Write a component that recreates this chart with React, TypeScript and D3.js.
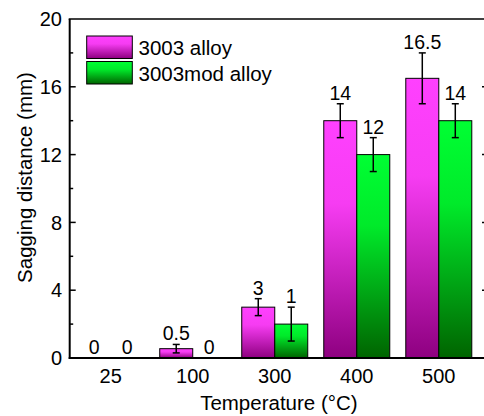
import React from "react";
import * as d3 from "d3";

const categories = ["25", "100", "300", "400", "500"];
const alloy3003 = [0, 0.55, 3, 14, 16.5];
const err3003 = [0, 0.25, 0.5, 1, 1.5];
const label3003 = ["0", "0.5", "3", "14", "16.5"];
const alloyMod = [0, 0, 2, 12, 14];
const errMod = [0, 0, 1, 1, 1];
const labelMod = ["0", "0", "1", "12", "14"];
const yTicks = [0, 4, 8, 12, 16, 20];
const yMinor = [2, 6, 10, 14, 18];
const seriesNames = ["3003 alloy", "3003mod alloy"];

const W = 484;
const H = 416;
const FONT = "'Liberation Sans', Arial, Helvetica, sans-serif";

export default function App() {
  const left = 69.7;
  const right = 488;
  const top = 19;
  const bottom = 358;
  const x = d3.scaleLinear().domain([0.5, 5.6]).range([left, right]);
  const y = d3.scaleLinear().domain([0, 20]).range([bottom, top]);
  const barW = 33;

  const series = [
    { vals: alloy3003, errs: err3003, labels: label3003, fill: "url(#gMag)", off: -1 },
    { vals: alloyMod, errs: errMod, labels: labelMod, fill: "url(#gGrn)", off: 0 },
  ];

  return (
    <svg width={W} height={H} style={{ position: "absolute", left: 0, top: 0, background: "#fff" }} fontFamily={FONT}>
      <defs>
        <linearGradient id="gMag" x1="0" y1="0" x2="0" y2="1">
          <stop offset="0%" stopColor="#ff40ff" />
          <stop offset="35%" stopColor="#f63cf2" />
          <stop offset="100%" stopColor="#8e0080" />
        </linearGradient>
        <linearGradient id="gGrn" x1="0" y1="0" x2="0" y2="1">
          <stop offset="0%" stopColor="#00ff33" />
          <stop offset="35%" stopColor="#00ea2a" />
          <stop offset="100%" stopColor="#006400" />
        </linearGradient>
      </defs>

      {series.map((s, si) =>
        categories.map((c, i) => {
          const cx = x(i + 1);
          const bx = cx + s.off * barW;
          const v = s.vals[i];
          const e = s.errs[i];
          const mid = bx + barW / 2;
          const errTop = y(v + e);
          return (
            <g key={`${si}-${i}`}>
              {v > 0 && (
                <rect x={bx} y={y(v)} width={barW} height={y(0) - y(v)} fill={s.fill} stroke="#000" strokeWidth={1} />
              )}
              {e > 0 && (
                <g stroke="#000" strokeWidth={1.5}>
                  <line x1={mid} x2={mid} y1={y(v + e)} y2={y(v - e)} />
                  <line x1={mid - 3.5} x2={mid + 3.5} y1={y(v + e)} y2={y(v + e)} />
                  <line x1={mid - 3.5} x2={mid + 3.5} y1={y(v - e)} y2={y(v - e)} />
                </g>
              )}
              <text x={mid} y={errTop - 4} textAnchor="middle" fontSize={19.5} fill="#000">
                {s.labels[i]}
              </text>
            </g>
          );
        })
      )}

      {/* axes frame */}
      <line x1={left - 1} x2={W + 10} y1={top} y2={top} stroke="#000" strokeWidth={1.5} />
      <line x1={left} x2={left} y1={top} y2={bottom + 1} stroke="#000" strokeWidth={2} />
      <line x1={right} x2={right} y1={top} y2={bottom} stroke="#000" strokeWidth={1.5} />
      <line x1={left - 1} x2={W + 10} y1={bottom} y2={bottom} stroke="#000" strokeWidth={2} />

      {yTicks.map((t) => (
        <g key={"t" + t}>
          {t > 0 && t < 20 && (
            <>
              <line x1={left} x2={left + 6} y1={y(t)} y2={y(t)} stroke="#000" strokeWidth={1.5} />
              <line x1={right} x2={right - 6} y1={y(t)} y2={y(t)} stroke="#000" strokeWidth={1.5} />
            </>
          )}
          <text x={62} y={y(t)} dy="0.36em" textAnchor="end" fontSize={20} fill="#000">
            {t}
          </text>
        </g>
      ))}
      {yMinor.map((t) => (
        <g key={"m" + t}>
          <line x1={left} x2={left + 3.5} y1={y(t)} y2={y(t)} stroke="#000" strokeWidth={1.5} />
          <line x1={right} x2={right - 3.5} y1={y(t)} y2={y(t)} stroke="#000" strokeWidth={1.5} />
        </g>
      ))}

      {categories.map((c, i) => (
        <text key={"x" + c} x={x(i + 1)} y={382.7} textAnchor="middle" fontSize={20} fill="#000">
          {c}
        </text>
      ))}

      <text x={(left + right) / 2} y={410} textAnchor="middle" fontSize={20.5} fill="#000">
        Temperature (°C)
      </text>
      <text
        transform={`translate(31.5, 177.5) rotate(-90)`}
        textAnchor="middle"
        fontSize={20.5}
        fill="#000"
      >
        Sagging distance (mm)
      </text>

      {/* legend */}
      {seriesNames.map((n, i) => (
        <g key={n}>
          <rect x={86.7} y={36 + i * 25.5} width={45.6} height={22.5} fill={i === 0 ? "url(#gMag)" : "url(#gGrn)"} stroke="#000" strokeWidth={1} />
          <text x={138.5} y={55 + i * 25.5} fontSize={20.5} fill="#000">
            {n}
          </text>
        </g>
      ))}
    </svg>
  );
}
